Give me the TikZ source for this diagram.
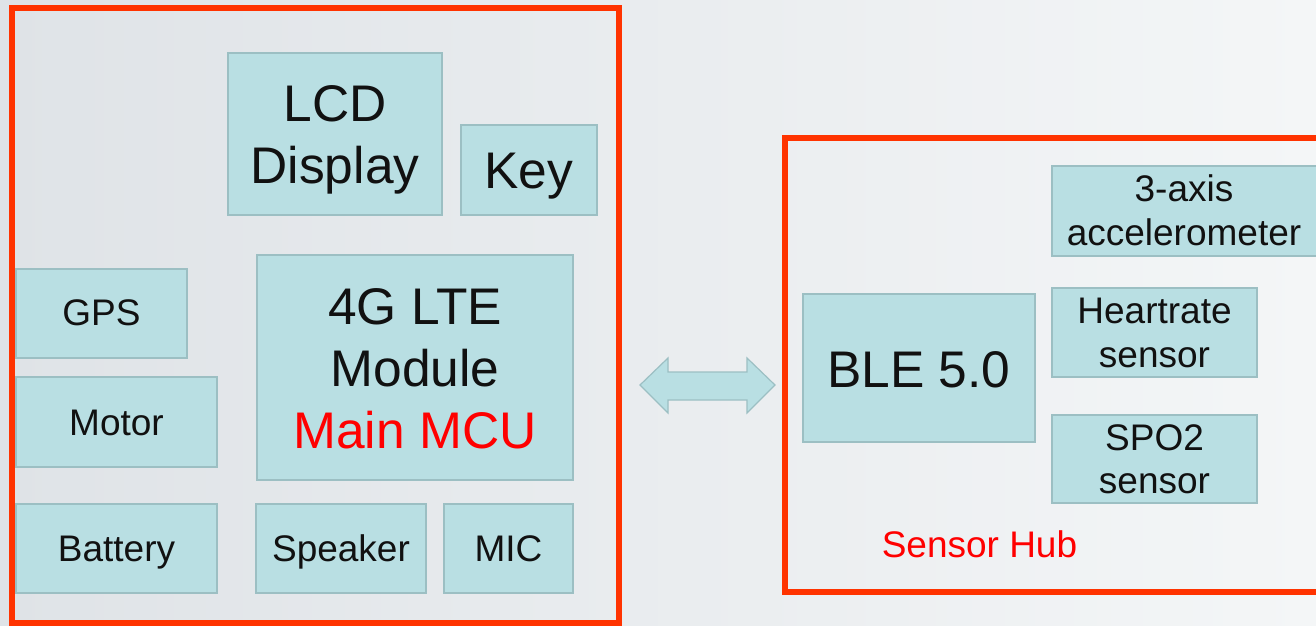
\documentclass[tikz,border=0pt]{standalone}
\usepackage{fontspec}
\setmainfont{Liberation Sans}
\definecolor{bgL}{HTML}{DFE3E7}
\definecolor{bgR}{HTML}{F4F6F7}
\definecolor{frame}{HTML}{FF3300}
\definecolor{boxfill}{HTML}{B9DFE3}
\definecolor{boxline}{HTML}{9CBFC3}
\definecolor{txt}{HTML}{111111}
\definecolor{redtxt}{HTML}{FF0000}
\tikzset{
  blk/.style={draw=boxline, fill=boxfill, line width=1.4pt},
  redframe/.style={draw=frame, line width=6pt},
  big/.style={inner sep=0pt, anchor=base, text=txt, font=\fontsize{51.5}{62}\selectfont},
  small/.style={inner sep=0pt, anchor=base, text=txt, font=\fontsize{37}{44}\selectfont},
  dblarrow/.style={draw=boxline, fill=boxfill, line width=1.2pt, line join=miter},
}
\begin{document}
\begin{tikzpicture}[x=1pt,y=-1pt]
\useasboundingbox (0,0) rectangle (1316,625);
\shade[left color=bgL, right color=bgR] (0,0) rectangle (1316,625);

% frames
\draw[redframe] (12,8) rectangle (619,623);
\draw[redframe] (785,138) rectangle (1330,592);

% left blocks
\draw[blk] (228,53) rectangle (442,215) coordinate (lcdBR);
\node[big] (lcd1) at (335,121) {LCD};
\node[big] (lcd2) at (335,183) {Display};

\draw[blk] (461,125) rectangle (597,215);
\node[big] (key) at (529,188) {Key};

\draw[blk] (257,255) rectangle (573,480);
\node[big] (lte1) at (415,324) {4G LTE};
\node[big] (lte2) at (415,386) {Module};
\node[big, text=redtxt] (lte3) at (415,448) {Main MCU};

\draw[blk] (16,269) rectangle (187,358);
\node[small] (gps) at (101.5,325) {GPS};

\draw[blk] (16,377) rectangle (217,467);
\node[small] (motor) at (116.5,435) {Motor};

\draw[blk] (16,504) rectangle (217,593);
\node[small] (battery) at (116.5,561) {Battery};

\draw[blk] (256,504) rectangle (426,593);
\node[small] (speaker) at (341,561) {Speaker};

\draw[blk] (444,504) rectangle (573,593);
\node[small] (mic) at (508.5,561) {MIC};

% arrow
\draw[dblarrow] (640,385) -- (668,358) -- (668,372) -- (747,372) -- (747,358)
  -- (775,385) -- (747,413) -- (747,400) -- (668,400) -- (668,413) -- cycle;

% right blocks
\draw[blk] (803,294) rectangle (1035,442);
\node[big] (ble) at (919,387) {BLE 5.0};

\draw[blk] (1052,166) rectangle (1317,256);
\node[small] (acc1) at (1184,201) {3-axis};
\node[small] (acc2) at (1184,245) {accelerometer};

\draw[blk] (1052,288) rectangle (1257,377);
\node[small] (hr1) at (1154.5,323) {Heartrate};
\node[small] (hr2) at (1154.5,367) {sensor};

\draw[blk] (1052,415) rectangle (1257,503);
\node[small] (spo1) at (1154.5,450) {SPO2};
\node[small] (spo2) at (1154.5,493) {sensor};

\node[small, text=redtxt] (hub) at (979.5,557) {Sensor Hub};
\end{tikzpicture}
\end{document}
